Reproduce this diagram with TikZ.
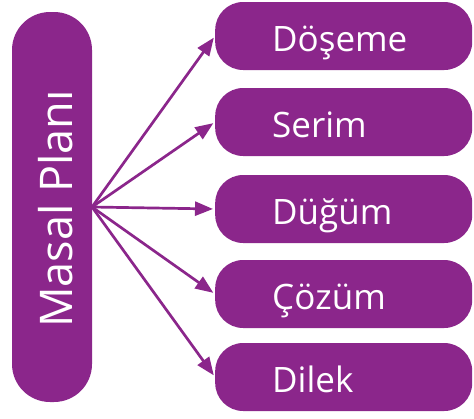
\documentclass[tikz,border=0pt]{standalone}
\usepackage{fontspec}
\setmainfont{Open Sans}
\usetikzlibrary{arrows.meta}
\definecolor{plum}{RGB}{139,38,139}
\begin{document}
\begin{tikzpicture}[x=1pt,y=-1pt,
  itembox/.style={draw=none,fill=plum,rounded corners=28pt,minimum width=257pt,minimum height=68pt,
    text width=143pt,align=left,text=white,font=\fontsize{35}{40}\selectfont,
    text height=30pt,text depth=0pt,inner xsep=57pt,inner ysep=0pt,anchor=west},
  mainbox/.style={draw=none,fill=plum,rounded corners=38pt,minimum width=80pt,minimum height=390pt,inner sep=0pt},
  conn/.style={draw=plum,line width=2.7pt,-{Triangle[length=18pt,width=14pt]},shorten >=2pt}]
\useasboundingbox (0,0) rectangle (474,418);
\node[mainbox] (plan) at (52,207) {};
\node[text=white,rotate=90,anchor=base,font=\fontsize{45}{50}\selectfont] (plantext) at (72,209) {Masal Planı};
\coordinate (hub) at (92,207);
\node[itembox] (b1) at (215,36) {Döşeme};
\node[itembox] (b2) at (215,122) {Serim};
\node[itembox] (b3) at (215,209) {Düğüm};
\node[itembox] (b4) at (215,294) {Çözüm};
\node[itembox] (b5) at (215,377) {Dilek};
\foreach \b in {b1,b2,b3,b4,b5}
  \draw[conn] (hub) -- (\b.west);
\end{tikzpicture}
\end{document}
